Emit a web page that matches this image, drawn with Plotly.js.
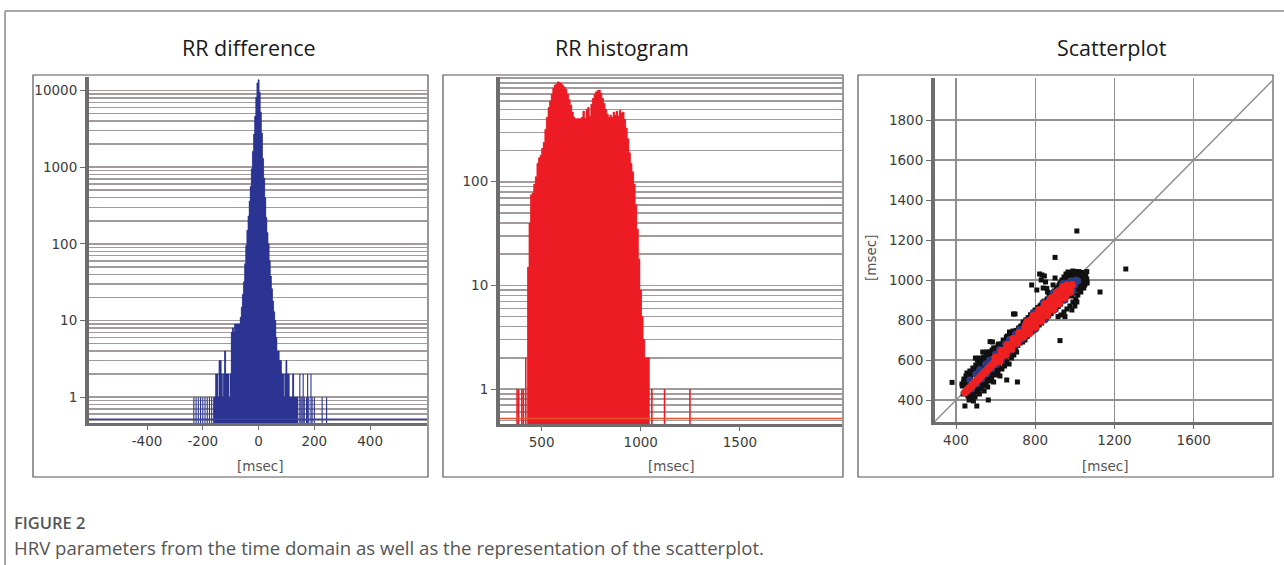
<!DOCTYPE html>
<html>
<head>
<meta charset="utf-8">
<script src="https://cdn.plot.ly/plotly-3.0.1.min.js"></script>
<style>
  html, body { margin: 0; padding: 0; background: #ffffff; }
  #chart { width: 1284px; height: 565px; }
</style>
</head>
<body>
<div id="chart"></div>
<script>
// ---------------- DATA ----------------
// Panel 1: RR difference histogram (bin centre in msec, count)
const rrDiffBins = [
  -232,-224,-216,-208,-200,-192,-184,-176,-168,-160,-156,-152,-148,-144,-140,-136,-132,-128,-124,-120,-116,-112,-108,-104,-100,
  -96,-92,-88,-84,-80,-76,-72,-68,-64,-60,-56,-52,-48,-44,-40,-36,-32,-28,-24,-20,-16,-12,-8,-4,
  0,4,8,12,16,20,24,28,32,36,40,44,48,52,56,60,64,68,72,76,80,
  84,88,92,96,100,104,108,112,116,120,124,128,132,136,140,148,152,156,160,164,172,176,180,188,192,200,228,244
];
const rrDiffCounts = [
  1,1,1,1,1,1,1,1,1,1,1,2,2,1,3,3,2,1,2,4,2,2,2,1,2,
  7,8,7,9,9,9,9,9,11,15,22,32,55,95,150,230,360,560,950,1600,2700,4600,8200,12500,
  13800,9500,5200,2800,1300,720,400,220,140,100,60,38,26,18,13,10,6,4,4,3,3,
  2,2,1,2,3,2,2,1,1,1,2,1,1,1,1,2,1,1,2,1,1,2,1,2,1,1,1,1
];

// Panel 2: RR interval histogram (bin centre in msec, count)
const rrHistBins = [
  376,384,400,408,420,
  432,440,448,456,464,472,480,488,496,504,512,520,528,536,544,552,560,568,576,584,592,600,608,616,624,632,640,648,656,664,672,680,688,696,
  704,712,720,728,736,744,752,760,768,776,784,792,800,808,816,824,832,840,848,856,864,872,880,888,896,904,912,920,928,936,944,952,960,968,
  976,984,992,1000,1008,1016,1024,1032,1040,1056,1120,1248
];
const rrHistCounts = [
  1,1,1,1,2,
  15,40,75,78,95,112,150,170,180,210,240,320,420,520,600,700,800,860,880,920,900,880,850,820,780,700,620,550,470,420,405,405,410,405,
  420,480,410,500,520,430,560,640,700,740,760,770,720,640,570,500,450,420,440,420,470,440,480,430,490,460,470,400,330,260,190,150,125,95,
  60,35,18,9,5,3,2,2,2,1,1,1
];

// Panel 3: Poincare scatterplot (RR[n], RR[n+1]) in msec
const scatterOutliers = [
  [380,488],[445,370],[505,370],[563,400],[430,480],[440,505],[450,520],[455,535],[462,515],[470,545],[478,528],[485,560],
  [492,540],[500,575],[508,600],[498,610],[515,585],[522,560],[530,600],[540,615],[548,590],[556,640],[566,625],[572,692],
  [584,690],[590,660],[600,640],[612,672],[625,660],[640,690],[655,700],[660,720],[670,740],[690,830],[472,420],[480,405],
  [488,395],[496,415],[505,440],[518,430],[526,455],[535,470],[542,445],[552,478],[560,465],[570,495],[580,510],[590,490],
  [600,525],[612,540],[622,520],[632,555],[645,570],[656,590],[668,580],[680,610],[692,625],[706,640],[710,490],[656,500],
  [460,450],[468,480],[455,470],[436,430],[520,610],[535,640],[546,570],[560,530],[575,600],[595,615],
  [700,730],[712,748],[725,765],[738,780],[750,770],[760,800],[772,810],[785,825],[798,845],[808,830],[820,860],[830,875],
  [842,890],[720,690],[735,705],[748,712],[760,725],[775,742],[790,758],[805,770],[818,790],[832,800],[845,815],[858,820],
  [870,835],[885,850],[698,830],[782,975],[808,950],[834,1025],[822,1030],[846,1020],[830,1000],[852,990],[840,960],[858,958],
  [862,940],[870,920],
  [880,900],[895,930],[905,950],[915,965],[925,985],[935,1000],[945,1015],[900,1010],[890,975],[955,1030],[965,1040],[980,1038],
  [990,1045],[1005,1040],[1020,1042],[1035,1038],[1045,1030],[1055,1025],[1040,1012],[1050,995],[1060,1005],[1035,985],[1025,965],
  [1045,960],[1030,940],[1015,925],[1005,905],[990,890],[975,870],[960,855],[945,840],[930,825],[915,817],[950,817],[985,850],
  [1000,870],[1010,890],[1050,975],[1062,985],[1040,970],[900,1113],[1010,1245],[1257,1055],[1127,940],[925,697],[1052,985],
  [1060,1042],[1001,1042],[976,1030],
  [432,470],[438,490],[446,488],[452,500],[458,498],[466,510],[474,520],[480,540],[488,530],[494,555],[502,550],[510,560],
  [516,570],[524,580],[532,585],[538,600],[546,605],[552,620],[560,610],[568,640],[576,630],[582,650],[590,640],[598,660],
  [606,650],[614,680],[620,670],[630,680],[638,700],[646,690],[654,715],[664,705],[672,730],[680,720],[688,745],[696,738],
  [460,420],[466,400],[476,430],[484,440],[490,420],[498,450],[506,460],[512,445],[520,470],[528,480],[536,490],[544,500],
  [550,490],[558,515],[566,520],[574,530],[582,535],[590,545],[598,560],[606,565],[614,575],[620,560],[628,590],[636,600],
  [644,605],[652,615],[660,620],[668,630],[676,640],[684,645],[692,655],[700,660],
  [704,748],[716,760],[728,770],[740,790],[752,800],[764,812],[776,826],[788,835],[800,850],[812,862],[824,870],[836,885],
  [848,895],[860,905],[872,915],
  [712,672],[724,685],[736,690],[748,700],[760,718],[772,730],[784,740],[796,752],[808,760],[820,775],[832,785],[844,800],
  [856,810],[868,820],[880,832],[892,845],[904,855],[916,868],[928,880],[940,895],[952,905],[964,920],[976,930],[988,945],
  [1000,955],[1012,970],[1024,980],
  [884,930],[896,945],[908,960],[920,975],[932,990],[944,1000],[956,1010],[968,1020],[980,1025],[992,1030],[1004,1030],
  [1016,1030],[1028,1025],
  [1000,990],[1010,1000],[1020,1010],[1030,1020],[995,1010],[1015,1020],[1025,995],[1005,975],[1015,985],[1035,1000],
  [990,1000],[1000,1015],[1042,1022],[1020,975],[1030,960],[1010,950],[998,935],[985,920]
];
const scatterMid = [
  [470,500],[520,552],[570,600],[620,652],[670,702],[720,752],[770,800],[820,852],[870,900],[920,950],[960,985],
  [500,530],[550,580],[600,630],[650,680],[700,730],[750,780],[800,830],[850,880],[900,930],[940,968],
  [480,455],[530,505],[580,555],[630,602],[680,650],[730,700],[780,752],[830,800],[880,850],[930,900],[970,940],[1000,975],
  [505,480],[555,530],[605,578],[655,626],[705,676],[755,726],[805,776],[855,826],[905,876],[955,922],
  [790,838],[840,888],[890,936],[940,982],[800,754],[850,802],[900,852],[950,900],[990,945],
  [985,995],[1000,985],[1005,1000],[1015,995]
];
const scatterCore = [
  [445,438],[455,447],[465,458],[475,466],[485,478],[495,487],[505,498],[515,506],[525,518],[535,527],[545,538],[555,548],
  [565,557],[575,568],[585,577],[595,588],[605,597],[615,608],[625,618],[635,627],[645,638],[655,648],[665,657],[675,668],
  [685,678],[695,688],[705,697],[715,708],[725,718],[735,727],[745,738],[755,748],[765,757],[775,768],[785,778],[795,788],
  [805,797],[815,808],[825,818],[835,828],[845,838],[855,848],[865,858],[875,867],[885,878],[895,888],[905,898],[915,907],
  [925,918],[935,928],[945,938],[955,947],[965,958],[975,967],[985,975],
  [600,612],[630,645],[660,675],[690,706],[720,735],[750,766],[780,797],[810,826],[840,858],[870,888],[900,918],[930,946],[960,972],
  [620,595],[650,626],[680,656],[710,686],[740,716],[770,748],[800,778],[830,808],[860,838],[890,866],[920,896],[950,925],[975,952],
  [760,790],[790,820],[820,850],[850,880],[880,908],[910,938],[940,965],
  [770,735],[800,765],[830,795],[860,825],[890,853],[920,883],[950,912],[975,940]
];
const identityLine = [290, 2010];

// Tick values and labels
const diffXTicks = [-400, -200, 0, 200, 400];
const histXTicks = [500, 1000, 1500];
const scatXTicks = [400, 800, 1200, 1600];
const scatYTicks = [400, 600, 800, 1000, 1200, 1400, 1600, 1800];
const diffYTicks = [1, 10, 100, 1000, 10000];
const histYTicks = [1, 10, 100];
const panelTitles = ['RR difference', 'RR histogram', 'Scatterplot'];
const axisUnit = '[msec]';
const figureLabel = 'FIGURE 2';
const figureCaption = 'HRV parameters from the time domain as well as the representation of the scatterplot.';

// ---------------- HELPERS ----------------
const W = 1284, H = 565;
const fx = p => p / W;
const fy = p => 1 - p / H;
function logMinor(lo, hi) {
  const v = [];
  for (let d = -1; d <= 5; d++) for (let k = 1; k <= 9; k++) {
    const val = k * Math.pow(10, d);
    if (val >= lo && val <= hi) v.push(val);
  }
  return v;
}
// contiguous runs of bins (same bin step) -> step outline for a solid fill, separated by gaps
function contiguous(xs, ys, step, minLen) {
  const ox = [], oy = [];
  let run = [];
  const flush = () => {
    if (run.length >= minLen) {
      // step edges: left edge of first bin to right edge of last bin
      ox.push(xs[run[0]] - step / 2); oy.push(ys[run[0]]);
      run.forEach(i => { ox.push(xs[i] - step / 2); oy.push(ys[i]); ox.push(xs[i] + step / 2); oy.push(ys[i]); });
      ox.push(null); oy.push(null);
    }
    run = [];
  };
  for (let i = 0; i < xs.length; i++) {
    if (run.length && xs[i] - xs[run[run.length - 1]] !== step) flush();
    run.push(i);
  }
  flush();
  return { x: ox, y: oy };
}

const zeroLevel1 = 0.515, zeroLevel2 = 0.52;
const gridCol = '#a39b9b';
const axisCol = '#6e6e6e';
const tickFont = { family: 'DejaVu Sans, Verdana, sans-serif', size: 13.5, color: '#3c3c3c' };
const blue = '#2b3492', red = '#ed1c24';

const diffSolid = contiguous(rrDiffBins, rrDiffCounts, 4, 6);
const histSolid = contiguous(rrHistBins, rrHistCounts, 8, 6);

const traces = [
  { type: 'scatter', mode: 'lines', x: diffSolid.x, y: diffSolid.y, xaxis: 'x', yaxis: 'y',
    fill: 'tozeroy', fillcolor: blue, line: { color: blue, width: 0.5 }, connectgaps: false, hoverinfo: 'skip' },
  { type: 'bar', x: rrDiffBins, y: rrDiffCounts, width: 4, xaxis: 'x', yaxis: 'y',
    marker: { color: blue, line: { width: 0 } }, hoverinfo: 'x+y' },
  { type: 'scatter', mode: 'lines', x: histSolid.x, y: histSolid.y, xaxis: 'x2', yaxis: 'y2',
    fill: 'tozeroy', fillcolor: red, line: { color: red, width: 0.5 }, connectgaps: false, hoverinfo: 'skip' },
  { type: 'bar', x: rrHistBins, y: rrHistCounts, width: 8, xaxis: 'x2', yaxis: 'y2',
    marker: { color: red, line: { width: 0 } }, hoverinfo: 'x+y' },
  { type: 'scatter', mode: 'lines', x: identityLine, y: identityLine, xaxis: 'x3', yaxis: 'y3',
    line: { color: '#8e8e8e', width: 1.5 }, hoverinfo: 'skip' },
  { type: 'scatter', mode: 'markers', x: scatterOutliers.map(p => p[0]), y: scatterOutliers.map(p => p[1]),
    xaxis: 'x3', yaxis: 'y3', marker: { symbol: 'square', size: 5, color: '#111111' } },
  { type: 'scatter', mode: 'markers', x: scatterMid.map(p => p[0]), y: scatterMid.map(p => p[1]),
    xaxis: 'x3', yaxis: 'y3', marker: { symbol: 'circle', size: 7, color: '#2e3b80' } },
  { type: 'scatter', mode: 'markers', x: scatterCore.map(p => p[0]), y: scatterCore.map(p => p[1]),
    xaxis: 'x3', yaxis: 'y3', marker: { symbol: 'circle', size: 8, color: '#ee2020' } }
];

function xAxisBase(domain, range, ticks, grid) {
  return {
    domain: domain, range: range, tickvals: ticks, ticktext: ticks.map(String),
    showline: true, linewidth: 2.5, linecolor: axisCol, ticks: 'outside', ticklen: 4, tickcolor: axisCol,
    showgrid: grid, gridcolor: '#8f8f8f', gridwidth: 1.5, zeroline: false, tickfont: tickFont, fixedrange: true
  };
}
function yLogAxis(domain, lo, hi, ticks) {
  return {
    type: 'log', domain: domain, range: [Math.log10(lo), Math.log10(hi)],
    tickvals: ticks, ticktext: ticks.map(String),
    showline: true, linewidth: 4, linecolor: axisCol, ticks: 'outside', ticklen: 5, tickcolor: axisCol,
    showgrid: true, gridcolor: gridCol, gridwidth: 1.5,
    minor: { tickvals: logMinor(lo, hi), showgrid: true, gridcolor: gridCol, gridwidth: 1.5, ticks: '' },
    zeroline: false, tickfont: tickFont, fixedrange: true
  };
}

const titleFont = { family: 'Open Sans, sans-serif', size: 21.5, color: '#1a1a1a' };
const unitFont = { family: 'DejaVu Sans, Verdana, sans-serif', size: 13.5, color: '#555555' };

const layout = {
  width: W, height: H,
  margin: { l: 0, r: 0, t: 0, b: 0 },
  paper_bgcolor: '#ffffff', plot_bgcolor: '#ffffff',
  showlegend: false, barmode: 'overlay',
  xaxis: Object.assign(xAxisBase([fx(89), fx(427)], [-608, 604], diffXTicks, false), { anchor: 'y' }),
  yaxis: Object.assign(yLogAxis([fy(423), fy(77)], 0.46, 15000, diffYTicks), { anchor: 'x' }),
  xaxis2: Object.assign(xAxisBase([fx(500), fx(842)], [290, 2015], histXTicks, false), { anchor: 'y2' }),
  yaxis2: Object.assign(yLogAxis([fy(424), fy(77)], 0.46, 1025, histYTicks), { anchor: 'x2' }),
  xaxis3: Object.assign(xAxisBase([fx(935), fx(1272)], [294, 1995], scatXTicks, true), { anchor: 'y3' }),
  yaxis3: Object.assign(xAxisBase([fy(422), fy(78)], [290, 2010], scatYTicks, true), { anchor: 'x3', linewidth: 4, ticklen: 5 }),
  shapes: [
    { type: 'line', xref: 'x domain', x0: 0, x1: 1, yref: 'y', y0: zeroLevel1, y1: zeroLevel1, line: { color: '#3a43a0', width: 1.5 } },
    { type: 'line', xref: 'x2 domain', x0: 0, x1: 1, yref: 'y2', y0: zeroLevel2, y1: zeroLevel2, line: { color: '#e8502c', width: 1.5 } },
    { type: 'rect', xref: 'paper', yref: 'paper', x0: fx(33), x1: fx(428), y0: fy(477), y1: fy(75), line: { color: '#555555', width: 1.2 } },
    { type: 'rect', xref: 'paper', yref: 'paper', x0: fx(443), x1: fx(843), y0: fy(477), y1: fy(75), line: { color: '#555555', width: 1.2 } },
    { type: 'rect', xref: 'paper', yref: 'paper', x0: fx(858), x1: fx(1273), y0: fy(477), y1: fy(75), line: { color: '#555555', width: 1.2 } },
    { type: 'line', xref: 'paper', yref: 'paper', x0: fx(5), x1: 1, y0: fy(11), y1: fy(11), line: { color: '#8a8a8a', width: 1.5 } },
    { type: 'line', xref: 'paper', yref: 'paper', x0: fx(5), x1: fx(5), y0: fy(11), y1: 0, line: { color: '#8a8a8a', width: 1.5 } }
  ],
  annotations: [
    { text: panelTitles[0], xref: 'paper', yref: 'paper', x: fx(249), y: fy(47), showarrow: false, xanchor: 'center', yanchor: 'middle', font: titleFont },
    { text: panelTitles[1], xref: 'paper', yref: 'paper', x: fx(622), y: fy(47), showarrow: false, xanchor: 'center', yanchor: 'middle', font: titleFont },
    { text: panelTitles[2], xref: 'paper', yref: 'paper', x: fx(1112), y: fy(47), showarrow: false, xanchor: 'center', yanchor: 'middle', font: titleFont },
    { text: axisUnit, xref: 'paper', yref: 'paper', x: fx(260), y: fy(466), showarrow: false, xanchor: 'center', yanchor: 'middle', font: unitFont },
    { text: axisUnit, xref: 'paper', yref: 'paper', x: fx(671), y: fy(466), showarrow: false, xanchor: 'center', yanchor: 'middle', font: unitFont },
    { text: axisUnit, xref: 'paper', yref: 'paper', x: fx(1105), y: fy(466), showarrow: false, xanchor: 'center', yanchor: 'middle', font: unitFont },
    { text: axisUnit, xref: 'paper', yref: 'paper', x: fx(871), y: fy(258), showarrow: false, xanchor: 'center', yanchor: 'middle', textangle: -90, font: unitFont },
    { text: figureLabel, xref: 'paper', yref: 'paper', x: fx(12), y: fy(522), showarrow: false, xanchor: 'left', yanchor: 'middle',
      font: { family: 'Open Sans, sans-serif', size: 16.5, color: '#555555', weight: 600 } },
    { text: figureCaption, xref: 'paper', yref: 'paper', x: fx(12), y: fy(547), showarrow: false, xanchor: 'left', yanchor: 'middle',
      font: { family: 'Open Sans, sans-serif', size: 18.6, color: '#555555' } }
  ]
};

Plotly.newPlot('chart', traces, layout, { staticPlot: true, displayModeBar: false });
</script>
</body>
</html>
